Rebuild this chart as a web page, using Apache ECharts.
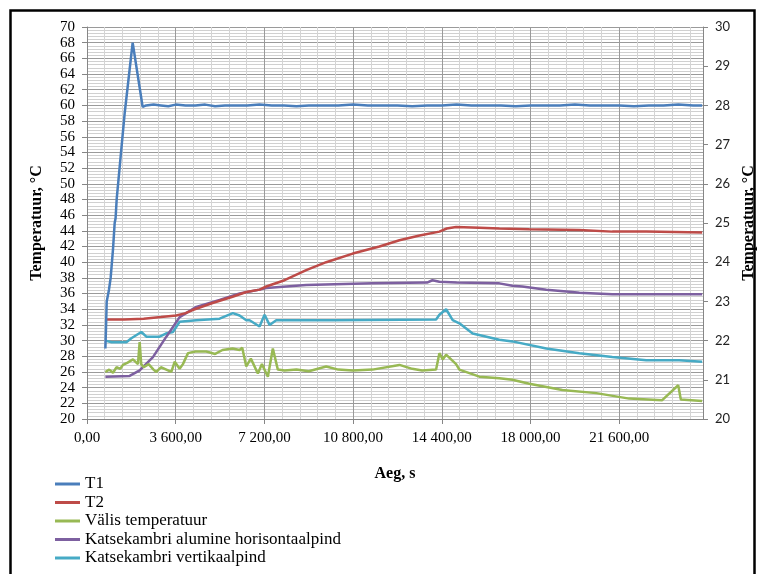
<!DOCTYPE html>
<html>
<head>
<meta charset="utf-8">
<script src="https://cdn.jsdelivr.net/npm/echarts@6/dist/echarts.min.js"></script>
<style>
html,body{margin:0;padding:0;background:#fff;}
#chart{width:758px;height:574px;}
</style>
</head>
<body>
<div id="chart"></div>
<script>
// [time s, temperature °C]
var seriesNames = ["T1", "T2", "Välis temperatuur", "Katsekambri alumine horisontaalpind", "Katsekambri vertikaalpind"];

var t1 = [[746,29.0],[770,31.5],[800,35.0],[892,36.5],[960,38.0],[1054,41.6],[1123,45.0],[1160,45.6],[1204,48.0],[1529,59.0],[1853,68.0],[2259,59.8],[2400,60.0],[2700,60.1],[3000,60.0],[3300,59.9],[3600,60.1],[4000,60.0],[4400,60.0],[4800,60.1],[5200,59.9],[5600,60.0],[6000,60.0],[6500,60.0],[7000,60.1],[7500,60.0],[8000,60.0],[8500,59.9],[9000,60.0],[9600,60.0],[10200,60.0],[10800,60.1],[11400,60.0],[12000,60.0],[12600,60.0],[13200,59.9],[13800,60.0],[14400,60.0],[15000,60.1],[15600,60.0],[16200,60.0],[16800,60.0],[17400,59.9],[18000,60.0],[18600,60.0],[19200,60.0],[19800,60.1],[20400,60.0],[21000,60.0],[21600,60.0],[22200,59.9],[22800,60.0],[23400,60.0],[24000,60.1],[24600,60.0],[24967,60.0]];

var t2 = [[746,32.7],[1500,32.7],[2300,32.8],[3000,33.0],[3625,33.2],[4000,33.5],[4286,33.9],[5097,34.8],[5908,35.6],[6464,36.2],[7003,36.5],[7275,36.9],[8017,37.7],[8897,39.0],[9708,40.0],[10786,41.1],[11869,42.0],[12680,42.8],[13500,43.4],[14302,43.9],[14600,44.3],[14979,44.5],[15924,44.4],[16735,44.3],[17952,44.2],[19980,44.1],[21318,43.9],[22697,43.9],[24967,43.8]];

var valis = [[746,26.0],[900,26.3],[1054,25.9],[1200,26.6],[1350,26.4],[1460,26.9],[1650,27.2],[1865,27.6],[2068,27.0],[2137,29.8],[2200,27.0],[2300,26.6],[2500,27.0],[2700,26.3],[2814,26.0],[3000,26.6],[3220,26.3],[3422,26.0],[3560,27.3],[3759,26.4],[3893,27.0],[4100,28.4],[4400,28.6],[4842,28.6],[5200,28.3],[5500,28.8],[5908,29.0],[6192,28.8],[6300,29.1],[6464,26.7],[6650,27.7],[6934,25.8],[7100,27.0],[7340,25.4],[7542,29.0],[7745,26.3],[8017,26.2],[8500,26.3],[9000,26.1],[9708,26.7],[10200,26.3],[10786,26.2],[11585,26.3],[12680,26.9],[13200,26.4],[13600,26.2],[14168,26.3],[14302,28.4],[14436,27.6],[14574,28.2],[14979,27.0],[15113,26.3],[15924,25.4],[16735,25.2],[17262,25.0],[17952,24.5],[19290,23.7],[20669,23.3],[22007,22.6],[23345,22.4],[23994,24.3],[24100,22.5],[24967,22.3]];

var alumine = [[746,25.4],[1731,25.5],[2137,26.2],[2676,27.9],[3220,30.5],[3759,33.0],[4436,34.3],[5381,35.2],[6192,36.0],[7003,36.5],[7275,36.7],[8897,37.1],[11585,37.3],[13800,37.4],[14018,37.7],[14302,37.5],[15000,37.4],[16735,37.3],[17262,37.0],[17668,36.9],[18641,36.5],[19696,36.2],[19980,36.1],[21318,35.9],[24967,35.9]];

var vertikaal = [[746,30.0],[1000,29.8],[1598,29.8],[1800,30.3],[2206,31.1],[2409,30.5],[2948,30.5],[3200,30.9],[3487,31.1],[3759,32.4],[4436,32.6],[5381,32.8],[5920,33.5],[6192,33.2],[6464,32.6],[6597,32.6],[7003,31.8],[7206,33.3],[7408,32.0],[7680,32.6],[10000,32.6],[14168,32.7],[14302,33.3],[14574,34.0],[14841,32.6],[15113,32.2],[15652,30.9],[16735,30.1],[17262,29.9],[18641,29.0],[19980,28.4],[21318,27.9],[22697,27.5],[24034,27.5],[24967,27.3]];

var seriesData = [t1, t2, valis, alumine, vertikaal];
var colors = ["#4A7EBB", "#BE4B48", "#98B954", "#7D60A0", "#46AAC5"];

function fmtX(v) {
  var s = String(Math.round(v));
  s = s.replace(/\B(?=(\d{3})+(?!\d))/g, " ");
  return s + ",00";
}

var serif = "'Liberation Serif', 'Times New Roman', serif";
var chart = echarts.init(document.getElementById('chart'), null, {renderer: 'canvas'});
chart.setOption({
  animation: false,
  backgroundColor: '#ffffff',
  color: colors,
  grid: {left: 87, right: 55, top: 27, bottom: 155, containLabel: false, outerBoundsMode: 'none'},
  graphic: [{
    type: 'rect', left: 8, top: 8,
    shape: {width: 744, height: 600},
    style: {fill: 'none', stroke: '#000', lineWidth: 2.5},
    silent: true, z: 100
  }],
  legend: {
    orient: 'vertical', left: 55, top: 475, padding: 0,
    icon: 'rect', itemWidth: 25, itemHeight: 3, itemGap: 0.5,
    textStyle: {fontFamily: serif, fontSize: 17, color: '#000', lineHeight: 18},
    data: seriesNames
  },
  xAxis: {
    type: 'value', min: 0, max: 25000, interval: 3600,
    name: 'Aeg, s', nameLocation: 'middle', nameGap: 47,
    nameTextStyle: {fontFamily: serif, fontSize: 16, fontWeight: 'bold', color: '#000'},
    axisLine: {show: true, onZero: false, lineStyle: {color: '#868686'}},
    axisTick: {show: true, length: 5, lineStyle: {color: '#868686'}},
    axisLabel: {margin: 12, fontFamily: serif, fontSize: 15, color: '#000', formatter: fmtX, showMaxLabel: false},
    splitLine: {show: true, lineStyle: {color: '#9a9a9a', width: 1}},
    minorTick: {show: false, splitNumber: 5},
    minorSplitLine: {show: true, lineStyle: {color: '#d4d4d4', width: 1}}
  },
  yAxis: [{
    type: 'value', min: 20, max: 70, interval: 2,
    name: 'Temperatuur, °C', nameLocation: 'middle', nameGap: 42, nameRotate: 90,
    nameTextStyle: {fontFamily: serif, fontSize: 16, fontWeight: 'bold', color: '#000'},
    axisLine: {show: true, lineStyle: {color: '#868686'}},
    axisTick: {show: true, length: 5, lineStyle: {color: '#868686'}},
    axisLabel: {margin: 12, fontFamily: serif, fontSize: 15, color: '#000'},
    splitLine: {show: true, lineStyle: {color: '#9a9a9a', width: 1}},
    minorTick: {show: false, splitNumber: 5},
    minorSplitLine: {show: true, lineStyle: {color: '#d0d0d0', width: 1}}
  }, {
    type: 'value', min: 20, max: 30, interval: 1, position: 'right',
    name: 'Temperatuur, °C', nameLocation: 'middle', nameGap: 35, nameRotate: 90,
    nameTextStyle: {fontFamily: serif, fontSize: 16, fontWeight: 'bold', color: '#000'},
    axisLine: {show: true, lineStyle: {color: '#868686'}},
    axisTick: {show: true, length: 5, lineStyle: {color: '#868686'}},
    axisLabel: {margin: 12, fontFamily: "Lato, 'Liberation Sans', sans-serif", fontSize: 13, color: '#222'},
    splitLine: {show: false}
  }],
  series: seriesNames.map(function (n, i) {
    return {
      name: n, type: 'line', yAxisIndex: 0,
      data: seriesData[i], showSymbol: false, symbol: 'none',
      lineStyle: {width: 2.5, color: colors[i]},
      itemStyle: {color: colors[i]},
      z: 10 - i
    };
  })
});
</script>
</body>
</html>
